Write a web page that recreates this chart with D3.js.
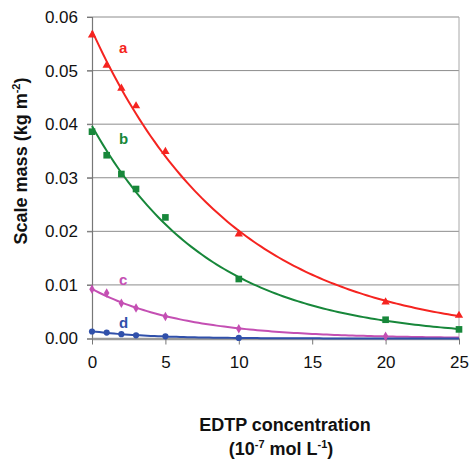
<!DOCTYPE html>
<html>
<head>
<meta charset="utf-8">
<script src="https://cdn.jsdelivr.net/npm/d3@7"></script>
<style>
  html, body { margin: 0; padding: 0; background: #fff; }
  svg { display: block; font-family: "Liberation Sans", Arial, sans-serif; }
</style>
</head>
<body>
<svg id="chart" width="469" height="460"></svg>
<script>
// EDTP concentration (10^-7 mol/L)
const concA = [0, 1, 2, 3, 5, 10, 20, 25];
const concB = [0, 1, 2, 3, 5, 10, 20, 25];
const concC = [0, 1, 2, 3, 5, 10, 20];
const concD = [0, 1, 2, 3, 5, 10];
// Scale mass (kg m^-2)
const massA = [0.0566, 0.0510, 0.0467, 0.0434, 0.0349, 0.0195, 0.0068, 0.0043];
const massB = [0.0386, 0.0342, 0.0307, 0.0279, 0.0226, 0.0111, 0.0035, 0.0017];
const massC = [0.0092, 0.0085, 0.0066, 0.0057, 0.0041, 0.0018, 0.0004];
const massD = [0.0013, 0.0011, 0.0008, 0.0006, 0.0004, 0.0001];
const seriesNames = ["a", "b", "c", "d"];
const seriesColors = ["#f52420", "#17873a", "#c44fb3", "#3050aa"];
const xTicks = [0, 5, 10, 15, 20, 25];
const yTicks = [0, 0.01, 0.02, 0.03, 0.04, 0.05, 0.06];

const series = [
  { name: seriesNames[0], x: concA, y: massA, color: seriesColors[0], shape: d3.symbolTriangle, size: 30, lx: 1.84, ly: 0.0533 },
  { name: seriesNames[1], x: concB, y: massB, color: seriesColors[1], shape: d3.symbolSquare, size: 44, lx: 1.84, ly: 0.0363 },
  { name: seriesNames[2], x: concC, y: massC, color: seriesColors[2], shape: d3.symbolDiamond, size: 26, lx: 1.84, ly: 0.0100 },
  { name: seriesNames[3], x: concD, y: massD, color: seriesColors[3], shape: d3.symbolCircle, size: 30, lx: 1.84, ly: 0.0019 }
];

const svg = d3.select("#chart");
const plot = { left: 92, right: 459, top: 17, bottom: 338.5 };
const x = d3.scaleLinear().domain([0, 25]).range([plot.left, plot.right]);
const y = d3.scaleLinear().domain([0, 0.06]).range([plot.bottom, plot.top]);

// gridlines
svg.append("g").selectAll("line").data(yTicks.slice(1)).join("line")
  .attr("x1", plot.left - 5).attr("x2", plot.right)
  .attr("y1", d => y(d)).attr("y2", d => y(d))
  .attr("stroke", "#8c8c8c").attr("stroke-width", 1);
// right border
svg.append("line").attr("x1", plot.right).attr("x2", plot.right).attr("y1", plot.top).attr("y2", plot.bottom)
  .attr("stroke", "#a8a8a8").attr("stroke-width", 1);

// y axis
const yAxis = d3.axisLeft(y).tickValues(yTicks).tickFormat(d3.format(".2f")).tickSize(5).tickPadding(9);
const gy = svg.append("g").attr("transform", `translate(${plot.left},0)`).call(yAxis);
gy.select(".domain").attr("stroke", "#777").attr("stroke-width", 1.2);
gy.selectAll(".tick line").attr("stroke", "#777");
gy.selectAll("text").attr("font-size", 17).attr("fill", "#111")
  .attr("font-family", "Liberation Sans, Arial, sans-serif");

// x axis
const xAxis = d3.axisBottom(x).tickValues(xTicks).tickSize(6).tickPadding(11).tickSizeOuter(0);
const gx = svg.append("g").attr("transform", `translate(0,${plot.bottom})`).call(xAxis);
gx.select(".domain").attr("stroke", "#9a9a9a").attr("stroke-width", 2.5);
gx.selectAll(".tick line").attr("stroke", "#777");
gx.selectAll("text").attr("font-size", 17).attr("fill", "#111")
  .attr("font-family", "Liberation Sans, Arial, sans-serif");

// exponential trend fitted by least squares on ln(mass)
function expFit(xs, ys) {
  const n = xs.length;
  const ly = ys.map(v => Math.log(v));
  const mx = d3.mean(xs), my = d3.mean(ly);
  let sxy = 0, sxx = 0;
  for (let i = 0; i < n; i++) { sxy += (xs[i] - mx) * (ly[i] - my); sxx += (xs[i] - mx) ** 2; }
  const b = sxy / sxx, a = Math.exp(my - b * mx);
  return t => a * Math.exp(b * t);
}

const line = d3.line().x(d => x(d[0])).y(d => y(d[1])).curve(d3.curveLinear);
const grid = d3.range(0, 25.001, 0.25);

series.forEach(s => {
  const f = expFit(s.x, s.y);
  svg.append("path").datum(grid.map(t => [t, f(t)]))
    .attr("d", line).attr("fill", "none")
    .attr("stroke", s.color).attr("stroke-width", 2);
});

series.forEach(s => {
  svg.append("g").selectAll("path").data(s.x.map((v, i) => [v, s.y[i]])).join("path")
    .attr("transform", d => `translate(${x(d[0])},${y(d[1])})`)
    .attr("d", d3.symbol().type(s.shape).size(s.size))
    .attr("fill", s.color);
  svg.append("text").attr("x", x(s.lx)).attr("y", y(s.ly))
    .attr("font-size", 15).attr("font-weight", "bold").attr("fill", s.color)
    .text(s.name);
});

// axis titles
const ytitle = svg.append("text")
  .attr("transform", "translate(27,161) rotate(-90)")
  .attr("text-anchor", "middle").attr("font-size", 18).attr("font-weight", "bold").attr("fill", "#111");
ytitle.append("tspan").text("Scale mass (kg m");
ytitle.append("tspan").attr("font-size", 11).attr("dy", -7).text("-2");
ytitle.append("tspan").attr("dy", 7).text(")");

svg.append("text").attr("x", 285).attr("y", 431).attr("text-anchor", "middle")
  .attr("font-size", 18).attr("font-weight", "bold").attr("fill", "#111")
  .text("EDTP concentration");
const xt2 = svg.append("text").attr("x", 281).attr("y", 455).attr("text-anchor", "middle")
  .attr("font-size", 18).attr("font-weight", "bold").attr("fill", "#111");
xt2.append("tspan").text("(10");
xt2.append("tspan").attr("font-size", 11).attr("dy", -7).text("-7");
xt2.append("tspan").attr("dy", 7).text(" mol L");
xt2.append("tspan").attr("font-size", 11).attr("dy", -7).text("-1");
xt2.append("tspan").attr("dy", 7).text(")");
</script>
</body>
</html>
